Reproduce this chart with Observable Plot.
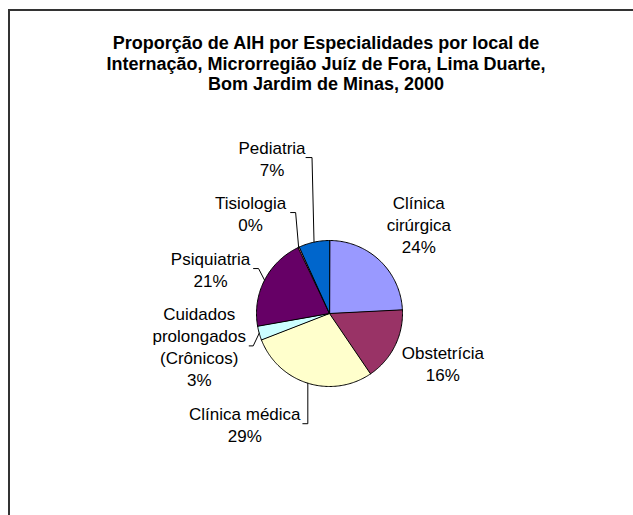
<!DOCTYPE html>
<html>
<head>
<meta charset="utf-8">
<script src="https://cdn.jsdelivr.net/npm/d3@7"></script>
<script src="https://cdn.jsdelivr.net/npm/@observablehq/plot@0.6"></script>
<style>
  html, body { margin: 0; padding: 0; background: #fff; }
  #wrap { position: relative; width: 633px; height: 515px; overflow: hidden; background: #fff; }
  #frame { position: absolute; left: 8px; top: 9px; width: 700px; height: 600px;
           border-top: 2px solid #333; border-left: 2px solid #333; pointer-events: none; }
</style>
</head>
<body>
<div id="wrap"><div id="frame"></div></div>
<script>
// ---- data ----
const title = "Proporção de AIH por Especialidades por local de\nInternação, Microrregião Juíz de Fora, Lima Duarte,\nBom Jardim de Minas, 2000";
const categories = ["Clínica cirúrgica", "Obstetrícia", "Clínica médica", "Cuidados prolongados (Crônicos)", "Psiquiatria", "Tisiologia", "Pediatria"];
const labelLines = ["Clínica\ncirúrgica", "Obstetrícia", "Clínica médica", "Cuidados\nprolongados\n(Crônicos)", "Psiquiatria", "Tisiologia", "Pediatria"];
const values = [24.2, 16.3, 28.6, 3.1, 20.7, 0.3, 6.8];
const colors = ["#9999FF", "#993366", "#FFFFCC", "#CCFFFF", "#660066", "#FF8080", "#0066CC"];

// ---- layout (pixels) ----
const W = 633, H = 515;
const cx = 329, cy = 313, R = 73;
// label centre offset from the slice's rim point, and leader stub (relative to label centre)
const labelLayout = {
  "Clínica cirúrgica": {dx: 39, dy: -37, leader: null},
  "Obstetrícia": {dx: 48, dy: 16.5, leader: null},
  "Clínica médica": {dx: -63, dy: 40.5, leader: [58, 63]},
  "Cuidados prolongados (Crônicos)": {dx: -60, dy: 12.7, leader: [50, 54]},
  "Psiquiatria": {dx: -54, dy: -11.6, leader: [43, 48]},
  "Tisiologia": {dx: -48, dy: -34.8, leader: [40, 45]},
  "Pediatria": {dx: -42, dy: -84.6, leader: [34, 40]}
};

const total = d3.sum(values);
const data = categories.map((name, i) => ({name, value: values[i], label: labelLines[i] + "\n" + Math.round(values[i] / total * 100) + "%"}));
const arcs = d3.pie().sort(null).value(d => d.value).startAngle(0).endAngle(2 * Math.PI)(data);

const pt = (a, r) => [cx + r * Math.sin(a), cy - r * Math.cos(a)];

const slicePts = [];
for (const a of arcs) {
  const n = Math.max(2, Math.ceil((a.endAngle - a.startAngle) / (Math.PI / 180)));
  slicePts.push({name: a.data.name, x: cx, y: cy});
  for (let k = 0; k <= n; k++) {
    const ang = a.startAngle + (a.endAngle - a.startAngle) * k / n;
    const [x, y] = pt(ang, R);
    slicePts.push({name: a.data.name, x, y});
  }
}

const labels = [];
const leaders = [];
for (const a of arcs) {
  const mid = (a.startAngle + a.endAngle) / 2;
  const [ex, ey] = pt(mid, R);
  const L = labelLayout[a.data.name];
  const lx = ex + L.dx, ly = ey + L.dy;
  labels.push({x: lx, y: ly, text: a.data.label});
  if (L.leader) {
    leaders.push({name: a.data.name, x: lx + L.leader[0], y: ly});
    leaders.push({name: a.data.name, x: lx + L.leader[1], y: ly});
    leaders.push({name: a.data.name, x: ex, y: ey});
  }
}

const font = "'Liberation Sans', Arial, sans-serif";
const chart = Plot.plot({
  width: W, height: H,
  margin: 0,
  x: {domain: [0, W], range: [0, W], axis: null},
  y: {domain: [0, H], range: [0, H], axis: null},
  color: {domain: categories, range: colors},
  style: {fontFamily: font, background: "#fff", overflow: "hidden"},
  marks: [
    Plot.line(slicePts, {x: "x", y: "y", z: "name", fill: "name", stroke: "#000", strokeWidth: 1, curve: "linear-closed", strokeLinejoin: "miter"}),
    Plot.line(leaders, {x: "x", y: "y", z: "name", stroke: "#000", strokeWidth: 1}),
    Plot.text(labels, {x: "x", y: "y", text: "text", fontSize: 17, lineHeight: 22 / 17, lineAnchor: "middle", fill: "#000"}),
    Plot.text([title], {text: d => d, frameAnchor: "top", dx: 9, dy: 34, lineAnchor: "top", fontSize: 18, fontWeight: "bold", lineHeight: 20.5 / 18, fill: "#000"})
  ]
});
document.getElementById("wrap").prepend(chart);
</script>
</body>
</html>
